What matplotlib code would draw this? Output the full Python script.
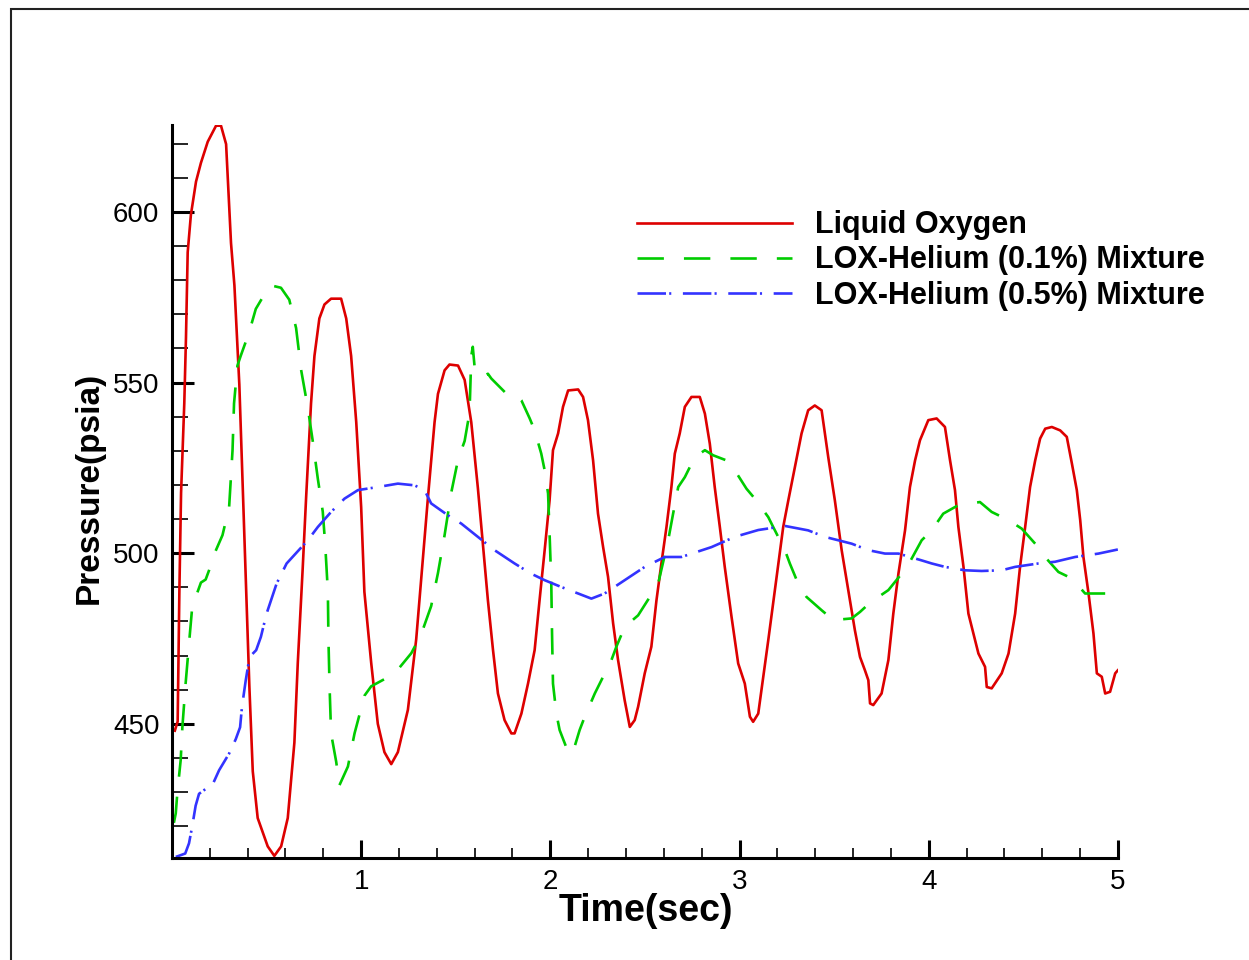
import matplotlib
matplotlib.use("Agg")
import matplotlib.pyplot as plt
from matplotlib.patches import Rectangle
from matplotlib.ticker import MultipleLocator

plt.rcParams['font.family'] = ['Liberation Sans', 'DejaVu Sans']

# Liquid oxygen
lox_t = [0.015, 0.030, 0.039, 0.048, 0.065, 0.074, 0.083, 0.100, 0.127, 0.153, 0.189, 0.233, 0.259,
         0.286, 0.312, 0.330, 0.356, 0.374, 0.392, 0.409, 0.427, 0.453, 0.506, 0.541, 0.577, 0.612,
         0.647, 0.665, 0.691, 0.709, 0.735, 0.753, 0.779, 0.806, 0.841, 0.894, 0.921, 0.947, 0.974,
         1.000, 1.017, 1.053, 1.088, 1.123, 1.159, 1.194, 1.247, 1.291, 1.326, 1.353, 1.388, 1.406,
         1.441, 1.467, 1.512, 1.547, 1.582, 1.617, 1.652, 1.670, 1.697, 1.723, 1.758, 1.794, 1.811,
         1.847, 1.882, 1.917, 1.943, 1.970, 1.996, 2.014, 2.041, 2.067, 2.094, 2.147, 2.173, 2.199,
         2.226, 2.252, 2.279, 2.305, 2.332, 2.358, 2.393, 2.420, 2.446, 2.464, 2.499, 2.534, 2.561,
         2.587, 2.614, 2.640, 2.658, 2.684, 2.711, 2.746, 2.790, 2.817, 2.843, 2.869, 2.896, 2.922,
         2.958, 2.993, 3.028, 3.055, 3.072, 3.099, 3.152, 3.187, 3.231, 3.258, 3.293, 3.328, 3.363,
         3.398, 3.434, 3.469, 3.504, 3.540, 3.575, 3.610, 3.637, 3.663, 3.681, 3.690, 3.707, 3.751,
         3.787, 3.813, 3.840, 3.875, 3.901, 3.928, 3.954, 3.998, 4.042, 4.086, 4.113, 4.139, 4.157,
         4.184, 4.210, 4.236, 4.263, 4.298, 4.307, 4.333, 4.386, 4.422, 4.457, 4.483, 4.510, 4.536,
         4.563, 4.589, 4.616, 4.651, 4.695, 4.730, 4.757, 4.783, 4.801, 4.818, 4.845, 4.871, 4.889,
         4.915, 4.933, 4.959, 4.986, 5.000]
lox_p = [448.0, 450.7, 488.7, 517.7, 543.9, 563.3, 588.2, 599.2, 608.9, 614.4, 620.6, 625.3, 625.3,
         619.9, 590.9, 578.5, 549.4, 519.1, 488.7, 461.0, 436.1, 422.4, 414.1, 411.3, 414.1, 422.4,
         444.5, 467.9, 495.6, 516.3, 543.9, 557.8, 568.8, 572.9, 574.6, 574.6, 568.8, 557.8, 538.4,
         513.5, 488.7, 467.9, 450.0, 441.7, 438.2, 441.7, 454.1, 474.8, 498.3, 516.3, 538.4, 546.7,
         553.6, 555.3, 555.0, 550.8, 538.4, 519.1, 497.5, 486.2, 471.6, 458.9, 451.1, 447.2, 447.2,
         453.0, 461.8, 471.6, 486.2, 500.9, 515.5, 530.2, 535.1, 542.9, 547.7, 548.0, 545.8, 539.0,
         527.2, 511.6, 501.8, 493.1, 479.4, 468.7, 456.9, 449.1, 451.1, 455.0, 464.8, 472.6, 486.2,
         497.0, 507.7, 519.4, 529.2, 535.1, 542.9, 545.8, 545.8, 540.9, 532.1, 519.4, 507.7, 496.0,
         481.3, 467.7, 461.8, 452.1, 450.6, 453.0, 474.5, 489.2, 507.7, 515.5, 525.3, 535.1, 541.9,
         543.3, 541.9, 528.2, 515.5, 500.9, 489.2, 477.4, 469.6, 465.7, 462.8, 456.0, 455.5, 458.9,
         468.7, 482.3, 494.0, 506.7, 519.4, 527.2, 533.1, 539.0, 539.5, 537.0, 527.2, 518.5, 507.7,
         496.0, 482.3, 476.5, 470.6, 466.7, 460.8, 460.4, 464.8, 470.6, 482.3, 496.0, 507.7, 519.4,
         527.2, 533.6, 536.5, 537.0, 536.0, 534.1, 526.3, 518.5, 509.7, 498.9, 488.2, 476.5, 464.8,
         463.8, 458.9, 459.4, 464.8, 465.7]

# LOX-Helium (0.1%) mixture
he01_t = [0.010, 0.020, 0.028, 0.046, 0.055, 0.072, 0.090, 0.107, 0.153, 0.178, 0.196, 0.223, 0.267,
          0.302, 0.320, 0.328, 0.346, 0.363, 0.407, 0.443, 0.487, 0.523, 0.576, 0.620, 0.656, 0.683,
          0.718, 0.744, 0.771, 0.797, 0.810, 0.824, 0.827, 0.833, 0.841, 0.868, 0.885, 0.930, 0.965,
          1.018, 1.053, 1.123, 1.194, 1.265, 1.317, 1.370, 1.406, 1.441, 1.476, 1.512, 1.547, 1.573,
          1.582, 1.590, 1.599, 1.635, 1.670, 1.688, 1.767, 1.811, 1.847, 1.891, 1.917, 1.952, 1.970,
          1.988, 1.996, 2.005, 2.009, 2.014, 2.032, 2.049, 2.097, 2.120, 2.155, 2.182, 2.235, 2.270,
          2.323, 2.349, 2.393, 2.464, 2.526, 2.570, 2.623, 2.649, 2.676, 2.711, 2.764, 2.817, 2.861,
          2.931, 2.975, 3.037, 3.081, 3.152, 3.178, 3.240, 3.266, 3.310, 3.354, 3.434, 3.496, 3.593,
          3.637, 3.690, 3.787, 3.857, 3.901, 3.963, 4.016, 4.077, 4.157, 4.271, 4.333, 4.422, 4.492,
          4.571, 4.615, 4.686, 4.757, 4.827, 4.933]
he01_p = [421.0, 423.8, 429.6, 439.4, 449.1, 461.8, 473.5, 484.3, 491.4, 492.3, 495.0, 499.7, 505.3,
          513.5, 530.1, 543.9, 555.0, 557.8, 564.6, 571.6, 575.7, 578.5, 577.8, 574.3, 566.0, 553.6,
          542.6, 532.9, 521.8, 512.2, 502.5, 488.7, 474.8, 461.0, 447.2, 438.9, 432.0, 437.5, 447.2,
          458.3, 461.0, 463.1, 465.9, 470.7, 476.2, 484.5, 494.2, 505.3, 517.7, 527.4, 532.9, 541.2,
          557.8, 560.5, 555.0, 551.5, 552.6, 551.2, 546.8, 546.8, 544.8, 539.5, 536.0, 529.2, 524.3,
          517.5, 505.8, 491.1, 476.5, 461.8, 453.0, 448.2, 441.3, 441.8, 448.2, 452.1, 458.9, 462.8,
          468.7, 472.6, 478.4, 481.8, 487.2, 491.1, 503.8, 511.6, 519.4, 522.3, 528.2, 530.2, 528.7,
          527.2, 524.3, 518.9, 516.0, 510.6, 507.7, 500.9, 497.0, 491.1, 487.2, 483.3, 480.4, 480.9,
          482.8, 485.5, 489.2, 494.0, 497.5, 503.8, 506.7, 511.6, 514.1, 515.0, 512.1, 509.7, 507.2,
          502.3, 498.9, 494.5, 492.6, 488.2, 488.2]

# LOX-Helium (0.5%) mixture
he05_t = [0.020, 0.070, 0.090, 0.107, 0.125, 0.143, 0.180, 0.213, 0.249, 0.302, 0.337, 0.360, 0.370,
          0.390, 0.410, 0.445, 0.470, 0.500, 0.553, 0.606, 0.718, 0.771, 0.841, 0.912, 0.983, 1.088,
          1.194, 1.282, 1.335, 1.370, 1.459, 1.529, 1.617, 1.705, 1.811, 1.899, 1.970, 2.058, 2.147,
          2.217, 2.287, 2.393, 2.499, 2.605, 2.693, 2.852, 2.975, 3.099, 3.240, 3.363, 3.451, 3.593,
          3.681, 3.769, 3.840, 3.963, 4.016, 4.086, 4.192, 4.280, 4.386, 4.457, 4.580, 4.668, 4.774,
          4.898, 5.000]
he05_p = [411.0, 412.0, 415.0, 420.0, 426.0, 429.5, 431.0, 432.0, 436.4, 441.3, 445.5, 449.0, 455.0,
          462.8, 469.6, 471.6, 475.5, 482.3, 491.1, 497.0, 503.8, 507.7, 512.1, 516.0, 518.5, 519.4,
          520.4, 519.9, 518.5, 514.6, 511.1, 508.7, 504.8, 500.9, 497.0, 494.0, 492.1, 490.1, 488.2,
          486.7, 488.2, 492.1, 496.0, 498.9, 498.9, 501.8, 504.8, 506.8, 508.0, 506.7, 504.8, 502.8,
          500.9, 499.9, 499.9, 497.9, 497.0, 496.0, 495.0, 494.8, 495.0, 496.0, 497.0, 497.5, 498.9,
          499.9, 501.1]

labels = ['Liquid Oxygen', 'LOX-Helium (0.1%) Mixture', 'LOX-Helium (0.5%) Mixture']

fig = plt.figure(figsize=(12.49, 9.6), dpi=100)
ax = fig.add_axes([0.1377, 0.1063, 0.7573, 0.7635])

ax.plot(lox_t, lox_p, color='#dd0000', lw=1.9, label=labels[0])
ax.plot(he01_t, he01_p, color='#00cc00', lw=1.9, linestyle=(0, (10, 7.6)), label=labels[1])
ax.plot(he05_t, he05_p, color='#3333ff', lw=1.9, linestyle=(0, (10.8, 1.2, 0.8, 4.4)), label=labels[2])

ax.set_xlim(0, 5)
ax.set_ylim(410.7, 625.5)

for s in ['top', 'right']:
    ax.spines[s].set_visible(False)
for s in ['left', 'bottom']:
    ax.spines[s].set_linewidth(2.2)

ax.set_xticks([1, 2, 3, 4, 5])
ax.set_yticks([450, 500, 550, 600])
ax.xaxis.set_minor_locator(MultipleLocator(0.2))
ax.yaxis.set_minor_locator(MultipleLocator(10))
ax.tick_params(axis='y', which='major', direction='in', length=16, width=2.2, labelsize=20, pad=9)
ax.tick_params(axis='y', which='minor', direction='in', length=11.5, width=1.2)
ax.tick_params(axis='x', which='major', direction='in', length=13, width=2.2, labelsize=20, pad=8)
ax.tick_params(axis='x', which='minor', direction='in', length=7, width=1.2)

ax.set_xlabel('Time(sec)', fontsize=27, fontweight='bold')
ax.set_ylabel('Pressure(psia)', fontsize=24, fontweight='bold')
ax.xaxis.set_label_coords(0.501, -0.048)
ax.yaxis.set_label_coords(-0.071, 0.505)

ax.legend(loc='upper left', bbox_to_anchor=(0.51, 0.781), bbox_transform=fig.transFigure,
          frameon=False, prop={'weight': 'bold', 'size': 22},
          handlelength=5.07, handletextpad=0.75, labelspacing=0.17,
          borderpad=0, borderaxespad=0)

fig.patches.append(Rectangle((0.0085, -0.05), 1.2, 1.0406, transform=fig.transFigure,
                             fill=False, edgecolor='#222222', lw=1.5))

fig.savefig('out.png', dpi=100)
